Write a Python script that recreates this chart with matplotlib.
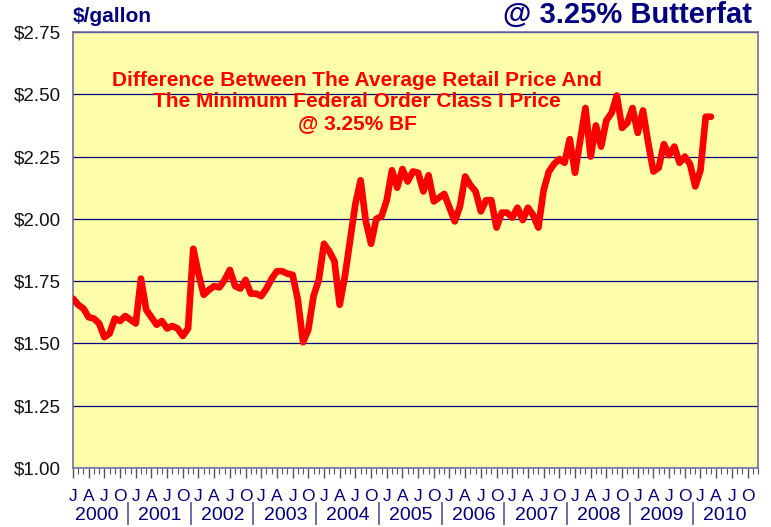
import numpy as np
import matplotlib
matplotlib.use('Agg')
import matplotlib.pyplot as plt
import matplotlib.transforms as mtransforms

plt.rcParams['font.family'] = ['Liberation Sans', 'DejaVu Sans']

# monthly spread, Jan 2000 .. Mar 2010 ($/gallon)
spread = [1.68, 1.655, 1.64, 1.605, 1.60, 1.58, 1.525, 1.54, 1.60, 1.59, 1.61, 1.595,
          1.58, 1.76, 1.635, 1.605, 1.575, 1.59, 1.56, 1.57, 1.56, 1.53, 1.56, 1.88,
          1.78, 1.695, 1.715, 1.73, 1.725, 1.755, 1.795, 1.73, 1.72, 1.755, 1.70, 1.70,
          1.69, 1.72, 1.76, 1.79, 1.79, 1.78, 1.775, 1.675, 1.505, 1.555, 1.69, 1.755,
          1.90, 1.87, 1.83, 1.655, 1.77, 1.915, 2.06, 2.155, 1.99, 1.90, 2.00, 2.01,
          2.075, 2.195, 2.125, 2.20, 2.15, 2.19, 2.185, 2.11, 2.175, 2.07, 2.085, 2.10,
          2.045, 1.99, 2.05, 2.17, 2.135, 2.11, 2.03, 2.075, 2.075, 1.965, 2.025, 2.025,
          2.005, 2.045, 1.995, 2.045, 2.015, 1.965, 2.115, 2.19, 2.22, 2.24, 2.225, 2.32,
          2.185, 2.315, 2.445, 2.25, 2.375, 2.29, 2.395, 2.425, 2.495, 2.365, 2.385, 2.445,
          2.345, 2.435, 2.305, 2.19, 2.205, 2.30, 2.255, 2.29, 2.225, 2.25, 2.22, 2.13,
          2.195, 2.41, 2.41]
years = [2000, 2001, 2002, 2003, 2004, 2005, 2006, 2007, 2008, 2009, 2010]
quarter_labels = ['J', 'A', 'J', 'O']
yticks = [1.00, 1.25, 1.50, 1.75, 2.00, 2.25, 2.50, 2.75]

navy = '#000080'
months = np.arange(len(spread))
n_months = len(years) * 12

fig = plt.figure(figsize=(7.71, 5.27), dpi=100)
ax = fig.add_axes([73/771, 1 - 468/527, 685/771, 436/527])
ax.set_facecolor('#ffffaa')

ax.plot(months, spread, color='#ff0000', lw=4.8,
        solid_capstyle='round', solid_joinstyle='round', zorder=3)

ax.set_xlim(0, n_months - 1)
ax.set_ylim(1.0, 2.75)
ax.set_yticks(yticks)
ax.set_yticklabels(['${:.2f}'.format(v) for v in yticks], fontsize=13.5, color='#111111')
ax.tick_params(axis='y', length=0, pad=9)
ax.grid(axis='y', color=navy, lw=0.9, zorder=1)

major = np.arange(0, n_months, 3)
ax.set_xticks(major)
ax.set_xticklabels([quarter_labels[i % 4] for i in range(len(major))],
                   fontsize=12.5, color=navy)
ax.set_xticks(np.arange(0, n_months), minor=True)
ax.tick_params(axis='x', which='major', length=7, width=1.0, color='#555555', pad=8)
ax.tick_params(axis='x', which='minor', length=4, width=0.8, color='#555555')

for side in ['left', 'bottom', 'right', 'top']:
    ax.spines[side].set_color('#7070a8')
    ax.spines[side].set_linewidth(1.2)

# year row with separators
trans = mtransforms.blended_transform_factory(ax.transData, ax.transAxes)
for i, yr in enumerate(years):
    ax.text(i * 12 + 4.6, -0.108, str(yr), transform=trans, ha='center', va='center',
            fontsize=14, color=navy, clip_on=False)
    if i > 0:
        ax.plot([i * 12 - 1.5, i * 12 - 1.5], [-0.08, -0.128], transform=trans,
                color='#6060a8', lw=1.3, clip_on=False)

fig.text(73/771, 1 - 17/527, '$/gallon', fontsize=15, fontweight='bold', color=navy,
         ha='left', va='center')
fig.text(752/771, 1 - 23/527, '@ 3.25% Butterfat', fontsize=21, fontweight='bold',
         color=navy, ha='right', va='baseline')

ax.text(0.415, 0.91, 'Difference Between The Average Retail Price And\n'
        'The Minimum Federal Order Class I Price\n@ 3.25% BF',
        transform=ax.transAxes, ha='center', va='top', fontsize=15,
        fontweight='bold', color='#ff0000', linespacing=1.15)

fig.savefig('out.png', dpi=100)
